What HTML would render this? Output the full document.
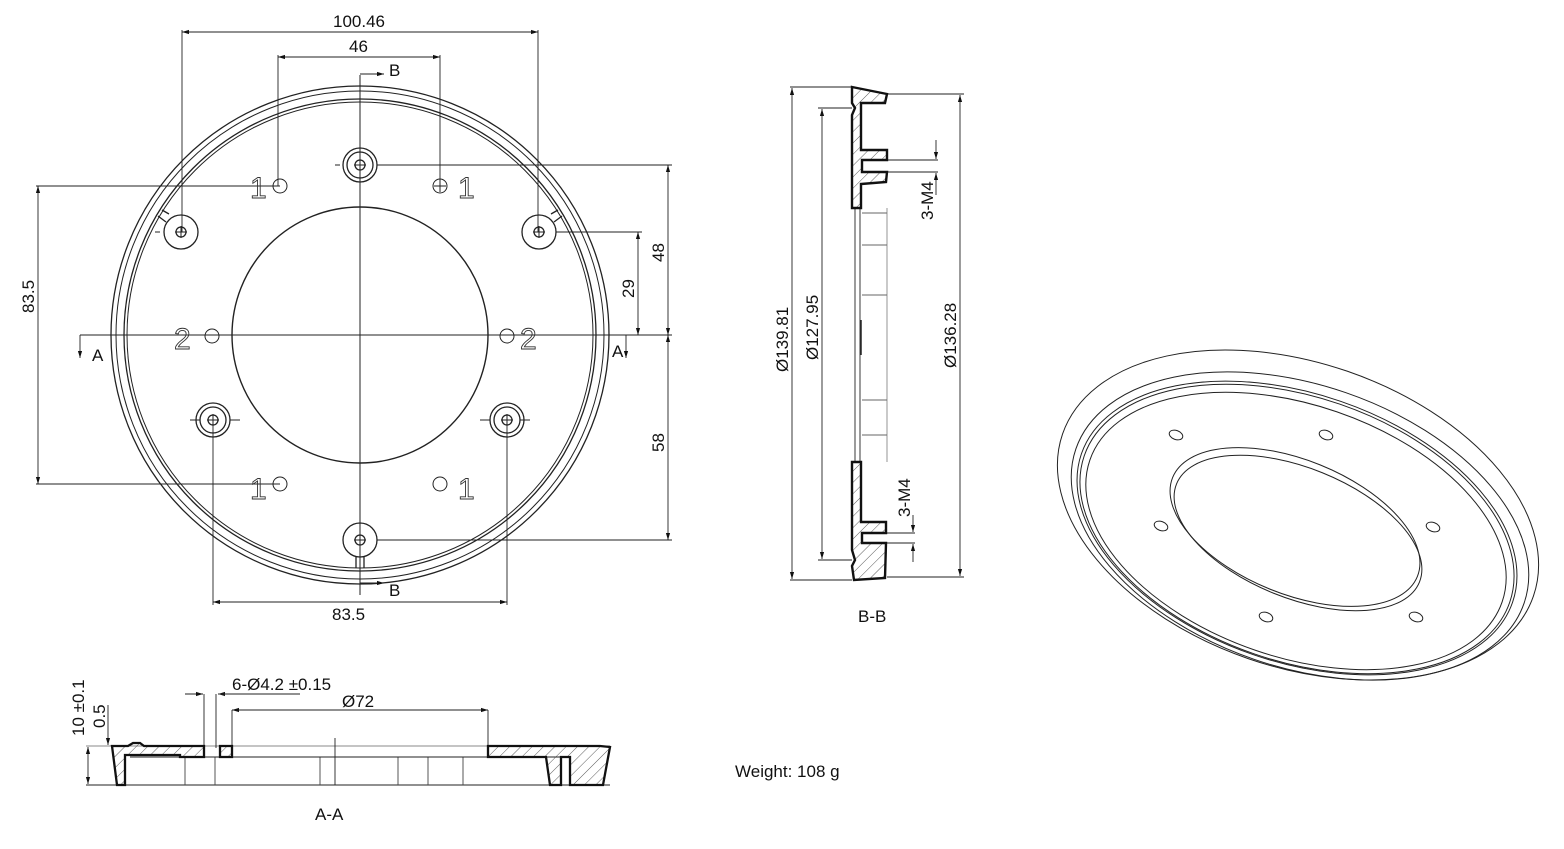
<!DOCTYPE html>
<html><head><meta charset="utf-8"><style>
html,body{margin:0;padding:0;background:#fff}
svg{display:block}
text{font-family:"Liberation Sans",sans-serif;fill:#111}
</style></head><body>
<svg width="1564" height="849" viewBox="0 0 1564 849" xmlns="http://www.w3.org/2000/svg">
<defs>
<marker id="a" viewBox="0 0 10 10" refX="10" refY="5" markerWidth="9" markerHeight="7" orient="auto-start-reverse" markerUnits="userSpaceOnUse"><path d="M0,2 L10,5 L0,8z" fill="#111"/></marker>
<pattern id="h" width="8" height="8" patternUnits="userSpaceOnUse" patternTransform="rotate(45)"><line x1="0" y1="0" x2="0" y2="8" stroke="#333" stroke-width="0.8"/></pattern>
</defs>
<g fill="none" stroke="#222" stroke-width="1">
<!-- TOP VIEW -->
<circle cx="360" cy="335" r="249" stroke-width="1.3"/>
<circle cx="360" cy="335" r="244"/>
<circle cx="360" cy="335" r="236" stroke-width="1.3"/>
<circle cx="360" cy="335" r="233"/>
<circle cx="360" cy="335" r="128" stroke-width="1.4"/>
<line x1="360" y1="75" x2="360" y2="595"/>
<line x1="80" y1="335" x2="672" y2="335"/>
<g stroke-width="1.3">
<circle cx="360" cy="165" r="17"/><circle cx="360" cy="165" r="13"/><circle cx="360" cy="165" r="5"/>
<circle cx="181" cy="232" r="17"/><circle cx="181" cy="232" r="5"/>
<circle cx="539" cy="232" r="17"/><circle cx="539" cy="232" r="5"/>
<circle cx="213" cy="420" r="17"/><circle cx="213" cy="420" r="13"/><circle cx="213" cy="420" r="5"/>
<circle cx="507" cy="420" r="17"/><circle cx="507" cy="420" r="13"/><circle cx="507" cy="420" r="5"/>
<circle cx="360" cy="540" r="17"/><circle cx="360" cy="540" r="5"/>
</g>
<path d="M356,556 L356,568 M364,556 L364,568" stroke-width="1.3"/>
<path d="M166,222 L158,216 M169,214 L162,210" stroke-width="1.3"/>
<path d="M554,222 L562,216 M551,214 L558,210" stroke-width="1.3"/>
<path d="M354,165h12M360,159v12M175,232h12M181,226v12M533,232h12M539,226v12M207,420h12M213,414v12M501,420h12M507,414v12M354,540h12M360,534v12"/>
<path d="M340,165h-5M385,165h5M200,420h-10M230,420h10M490,420h-10M520,420h10M160,232h-5M560,232h5"/>
<circle cx="280" cy="186" r="7"/><circle cx="440" cy="186" r="7"/>
<circle cx="212" cy="336" r="7"/><circle cx="507" cy="336" r="7"/>
<circle cx="280" cy="484" r="7"/><circle cx="440" cy="484" r="7"/>
<path d="M434,186h12M440,180v12"/>
<g stroke-width="0.9">
<line x1="182" y1="30" x2="182" y2="232"/><line x1="538" y1="30" x2="538" y2="232"/>
<line x1="182" y1="32" x2="538" y2="32" marker-start="url(#a)" marker-end="url(#a)"/>
<line x1="278" y1="55" x2="278" y2="186"/><line x1="440" y1="55" x2="440" y2="186"/>
<line x1="278" y1="57" x2="440" y2="57" marker-start="url(#a)" marker-end="url(#a)"/>
<line x1="36" y1="186" x2="280" y2="186"/><line x1="36" y1="484" x2="280" y2="484"/>
<line x1="38" y1="186" x2="38" y2="484" marker-start="url(#a)" marker-end="url(#a)"/>
<line x1="377" y1="165" x2="672" y2="165"/>
<line x1="556" y1="232" x2="642" y2="232"/>
<line x1="377" y1="540" x2="672" y2="540"/>
<line x1="668" y1="165" x2="668" y2="335" marker-start="url(#a)" marker-end="url(#a)"/>
<line x1="638" y1="232" x2="638" y2="335" marker-start="url(#a)" marker-end="url(#a)"/>
<line x1="668" y1="335" x2="668" y2="540" marker-start="url(#a)" marker-end="url(#a)"/>
<line x1="213" y1="420" x2="213" y2="605"/><line x1="507" y1="420" x2="507" y2="605"/>
<line x1="213" y1="602" x2="507" y2="602" marker-start="url(#a)" marker-end="url(#a)"/>
<line x1="360" y1="74" x2="384" y2="74" marker-end="url(#a)"/>
<line x1="360" y1="583" x2="384" y2="583" marker-end="url(#a)"/>
<line x1="80" y1="335" x2="80" y2="358" marker-end="url(#a)"/>
<line x1="626" y1="335" x2="626" y2="358" marker-end="url(#a)"/>
</g>

<!-- B-B SECTION -->
<g stroke-width="0.9">
<line x1="790" y1="87" x2="852" y2="87"/><line x1="790" y1="580" x2="852" y2="580"/>
<line x1="792" y1="88" x2="792" y2="579" marker-start="url(#a)" marker-end="url(#a)"/>
<line x1="818" y1="108" x2="852" y2="108"/><line x1="818" y1="560" x2="852" y2="560"/>
<line x1="822" y1="109" x2="822" y2="559" marker-start="url(#a)" marker-end="url(#a)"/>
<line x1="887" y1="94" x2="964" y2="94"/><line x1="887" y1="577" x2="964" y2="577"/>
<line x1="960" y1="95" x2="960" y2="576" marker-start="url(#a)" marker-end="url(#a)"/>
<line x1="887" y1="160" x2="938" y2="160"/><line x1="887" y1="172" x2="938" y2="172"/>
<line x1="936" y1="140" x2="936" y2="159" marker-end="url(#a)"/><line x1="936" y1="195" x2="936" y2="173" marker-end="url(#a)"/>
<line x1="887" y1="533" x2="915" y2="533"/><line x1="887" y1="543" x2="915" y2="543"/>
<line x1="913" y1="515" x2="913" y2="532" marker-end="url(#a)"/><line x1="913" y1="562" x2="913" y2="544" marker-end="url(#a)"/>
<line x1="855" y1="208" x2="855" y2="462"/>
<line x1="887" y1="208" x2="887" y2="462" stroke="#888"/>
<line x1="860" y1="208" x2="860" y2="462"/>
<path d="M862,213h25M862,245h25M862,295h25M862,400h25M862,435h25" stroke="#666"/>
<line x1="861" y1="320" x2="861" y2="355" stroke-width="1.5"/>
</g>
<path d="M852,87 L887,94 L885,103 L861,103 L861,150 L887,150 L887,160 L862,160 L862,172 L887,172 L886,182 L861,184 L861,208 L852,208 L852,115 L855,108 L852,103 Z" fill="url(#h)" stroke="#111" stroke-width="2.4"/>
<path d="M852,462 L861,462 L861,522 L886,522 L886,533 L862,533 L862,543 L886,543 L885,578 L854,580 L852,566 L855,560 L852,550 Z" fill="url(#h)" stroke="#111" stroke-width="2.4"/>

<!-- A-A SECTION -->
<g stroke-width="0.9">
<line x1="86" y1="746" x2="610" y2="746" stroke="#888"/>
<line x1="86" y1="785" x2="610" y2="785"/>
<line x1="88" y1="747" x2="88" y2="784" marker-start="url(#a)" marker-end="url(#a)"/>
<line x1="108" y1="705" x2="108" y2="745" marker-end="url(#a)"/>
<line x1="185" y1="694" x2="203" y2="694" marker-end="url(#a)"/>
<line x1="204" y1="694" x2="204" y2="748"/>
<line x1="235" y1="694" x2="218" y2="694" marker-end="url(#a)"/>
<line x1="218" y1="694" x2="300" y2="694"/>
<line x1="216" y1="694" x2="216" y2="748"/>
<line x1="232" y1="710" x2="232" y2="748"/><line x1="488" y1="710" x2="488" y2="748"/>
<line x1="232" y1="710" x2="488" y2="710" marker-start="url(#a)" marker-end="url(#a)"/>
<line x1="335" y1="738" x2="335" y2="785"/>
<path d="M185,757 L185,785 M215,757 L215,785 M320,757 L320,785 M398,757 L398,785 M428,757 L428,785 M463,757 L463,785" stroke="#444"/>
<line x1="130" y1="757" x2="560" y2="757"/>
</g>
<path d="M112,746 L128,746 L133,743 L140,743 L144,746 L204,746 L204,757 L180,757 L180,755 L125,755 L125,785 L117,785 Z" fill="url(#h)" stroke="#111" stroke-width="2.3"/>
<path d="M220,746 L232,746 L232,757 L220,757 Z" fill="url(#h)" stroke="#111" stroke-width="2.3"/>
<path d="M488,746 L600,746 L610,747 L603,785 L570,785 L570,757 L561,757 L561,785 L550,785 L546,757 L488,757 Z" fill="url(#h)" stroke="#111" stroke-width="2.3"/>

<!-- ISO VIEW -->
<g stroke-width="1">
<ellipse cx="1298" cy="515" rx="249" ry="152" transform="rotate(19 1298 515)"/>
<ellipse cx="1300" cy="526" rx="237" ry="141" transform="rotate(19 1300 526)"/>
<ellipse cx="1297" cy="528" rx="228" ry="134" transform="rotate(19 1297 528)"/>
<ellipse cx="1297" cy="529" rx="225" ry="132" transform="rotate(19 1297 529)"/>
<ellipse cx="1296" cy="531" rx="218" ry="126" transform="rotate(19 1296 531)"/>
<ellipse cx="1295" cy="527" rx="132" ry="67" transform="rotate(22 1295 527)"/>
<ellipse cx="1298" cy="533" rx="131" ry="65" transform="rotate(22 1298 533)"/>
<ellipse cx="1176" cy="435" rx="7" ry="4.5" transform="rotate(20 1176 435)"/>
<ellipse cx="1326" cy="435" rx="7" ry="4.5" transform="rotate(20 1326 435)"/>
<ellipse cx="1161" cy="526" rx="7" ry="4.5" transform="rotate(20 1161 526)"/>
<ellipse cx="1433" cy="527" rx="7" ry="4.5" transform="rotate(20 1433 527)"/>
<ellipse cx="1266" cy="617" rx="7" ry="4.5" transform="rotate(20 1266 617)"/>
<ellipse cx="1416" cy="617" rx="7" ry="4.5" transform="rotate(20 1416 617)"/>
</g>
</g>

<g font-size="17">
<text x="333" y="27">100.46</text>
<text x="349" y="52">46</text>
<text x="389" y="76">B</text>
<text x="389" y="596">B</text>
<text x="332" y="620">83.5</text>
<text x="92" y="361">A</text>
<text x="612" y="357">A</text>
<text transform="translate(34,313) rotate(-90)">83.5</text>
<text transform="translate(664,262) rotate(-90)">48</text>
<text transform="translate(634,298) rotate(-90)">29</text>
<text transform="translate(664,452) rotate(-90)">58</text>
<text transform="translate(788,372) rotate(-90)">Ø139.81</text>
<text transform="translate(818,360) rotate(-90)">Ø127.95</text>
<text transform="translate(956,368) rotate(-90)">Ø136.28</text>
<text transform="translate(933,220) rotate(-90)">3-M4</text>
<text transform="translate(910,517) rotate(-90)">3-M4</text>
<text x="858" y="622">B-B</text>
<text x="232" y="690">6-Ø4.2 ±0.15</text>
<text x="342" y="707">Ø72</text>
<text transform="translate(84,736) rotate(-90)">10 ±0.1</text>
<text transform="translate(105,728) rotate(-90)">0.5</text>
<text x="315" y="820">A-A</text>
<text x="735" y="777">Weight: 108 g</text>
</g>
<g font-size="30" font-family="Liberation Sans">
<text x="250" y="198" style="fill:none;stroke:#333;stroke-width:0.9">1</text>
<text x="458" y="198" style="fill:none;stroke:#333;stroke-width:0.9">1</text>
<text x="250" y="499" style="fill:none;stroke:#333;stroke-width:0.9">1</text>
<text x="458" y="499" style="fill:none;stroke:#333;stroke-width:0.9">1</text>
<text x="174" y="349" style="fill:none;stroke:#333;stroke-width:0.9">2</text>
<text x="520" y="349" style="fill:none;stroke:#333;stroke-width:0.9">2</text>
</g>
</svg>
</body></html>
